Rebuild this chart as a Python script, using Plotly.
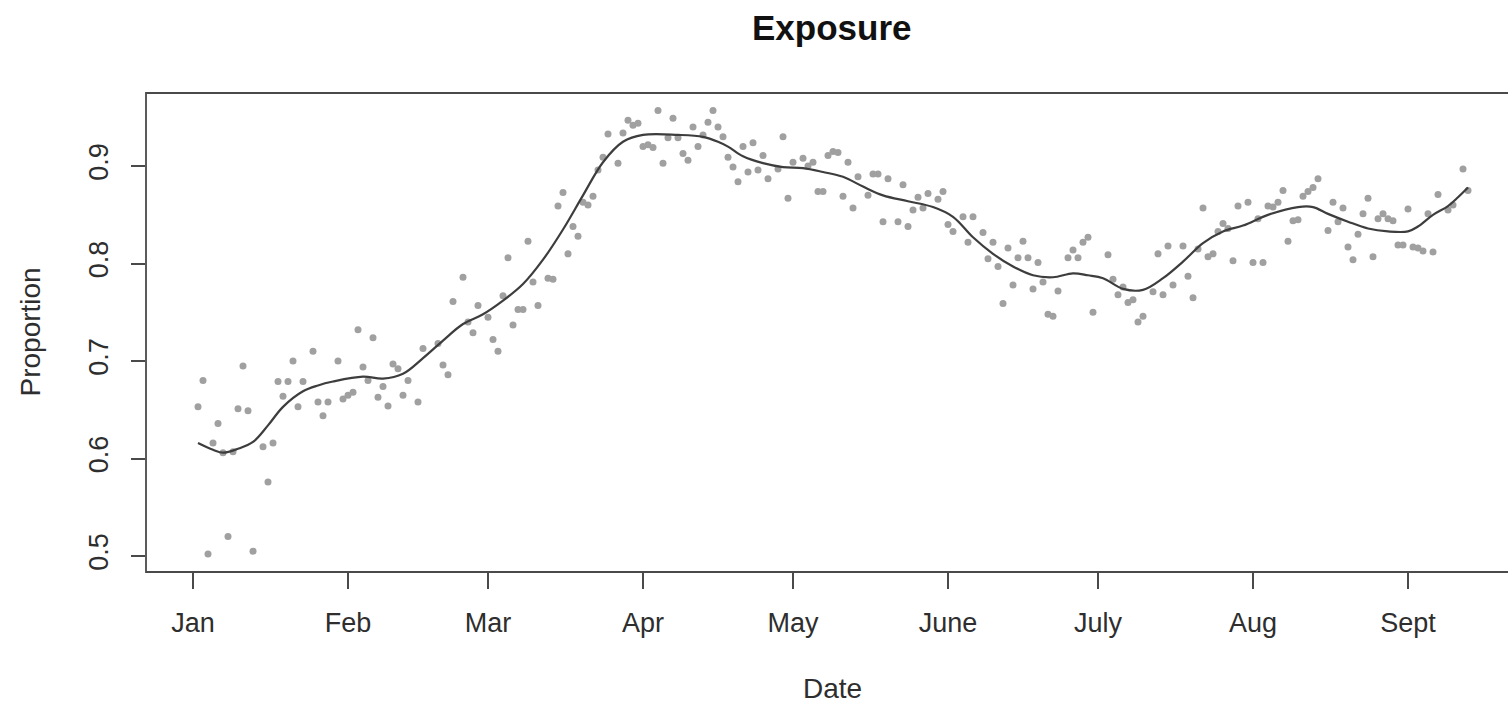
import plotly.graph_objects as go

# Daily exposure proportions (day 0 = 1 Jan)
obs_day = [1, 2, 3, 4, 5, 6, 7, 8, 9, 10, 11, 12, 14, 15, 16, 17, 18, 19, 20, 21,
           22, 24, 25, 26, 27, 29, 30, 31, 32, 33, 34, 35, 36, 37, 38, 39, 40, 41, 42, 43,
           45, 46, 49, 50, 51, 52, 54, 55, 56, 57, 59, 60, 61, 62, 63, 64, 65, 66, 67, 68,
           69, 71, 72, 73, 74, 75, 76, 77, 78, 79, 80, 81, 82, 83, 85, 86, 87, 88, 89, 90,
           91, 92, 93, 94, 95, 96, 97, 98, 99, 100, 101, 102, 103, 104, 105, 106, 107, 108, 109, 110,
           111, 112, 113, 114, 115, 117, 118, 119, 120, 122, 123, 124, 125, 126, 127, 128, 129, 130, 131, 132,
           133, 135, 136, 137, 138, 139, 141, 142, 143, 144, 145, 146, 147, 149, 150, 151, 152, 154, 155, 156,
           158, 159, 160, 161, 162, 163, 164, 165, 166, 167, 168, 169, 170, 171, 172, 173, 175, 176, 177, 178,
           179, 180, 183, 184, 185, 186, 187, 188, 189, 190, 192, 193, 194, 195, 196, 198, 199, 200, 201, 202,
           203, 204, 205, 206, 207, 208, 209, 211, 212, 213, 214, 215, 216, 217, 218, 219, 220, 221, 222, 223,
           224, 225, 227, 228, 229, 230, 231, 232, 233, 234, 235, 236, 237, 238, 239, 240, 241, 242, 243, 244,
           245, 246, 247, 248, 249, 251, 252, 254, 255]
obs_prop = [0.653, 0.680, 0.502, 0.616, 0.636, 0.606, 0.520, 0.607, 0.651, 0.695, 0.649, 0.505, 0.612, 0.576, 0.616, 0.679, 0.664, 0.679, 0.700, 0.653,
            0.679, 0.710, 0.658, 0.644, 0.658, 0.700, 0.661, 0.665, 0.668, 0.732, 0.694, 0.680, 0.724, 0.663, 0.674, 0.654, 0.697, 0.692, 0.665, 0.680,
            0.658, 0.713, 0.718, 0.696, 0.686, 0.761, 0.786, 0.740, 0.729, 0.757, 0.745, 0.722, 0.710, 0.767, 0.806, 0.737, 0.753, 0.753, 0.823, 0.781,
            0.757, 0.785, 0.784, 0.859, 0.873, 0.810, 0.838, 0.828, 0.863, 0.860, 0.869, 0.896, 0.909, 0.933, 0.903, 0.934, 0.947, 0.942, 0.944, 0.920,
            0.922, 0.919, 0.957, 0.903, 0.929, 0.949, 0.929, 0.913, 0.906, 0.940, 0.920, 0.932, 0.945, 0.957, 0.940, 0.930, 0.909, 0.899, 0.884, 0.920,
            0.894, 0.924, 0.896, 0.911, 0.887, 0.897, 0.930, 0.867, 0.904, 0.908, 0.900, 0.904, 0.874, 0.874, 0.911, 0.915, 0.914, 0.869, 0.904, 0.857,
            0.889, 0.870, 0.892, 0.892, 0.843, 0.887, 0.843, 0.881, 0.838, 0.855, 0.868, 0.857, 0.872, 0.866, 0.874, 0.840, 0.833, 0.848, 0.822, 0.848,
            0.832, 0.805, 0.822, 0.797, 0.759, 0.816, 0.778, 0.806, 0.823, 0.806, 0.774, 0.801, 0.781, 0.748, 0.746, 0.772, 0.806, 0.814, 0.806, 0.822,
            0.827, 0.750, 0.809, 0.784, 0.768, 0.776, 0.760, 0.763, 0.740, 0.746, 0.771, 0.810, 0.768, 0.818, 0.778, 0.818, 0.787, 0.765, 0.815, 0.857,
            0.807, 0.810, 0.833, 0.841, 0.836, 0.803, 0.859, 0.863, 0.801, 0.846, 0.801, 0.859, 0.858, 0.863, 0.875, 0.823, 0.844, 0.845, 0.869, 0.874,
            0.878, 0.887, 0.834, 0.863, 0.843, 0.857, 0.817, 0.804, 0.830, 0.851, 0.867, 0.807, 0.846, 0.851, 0.846, 0.844, 0.819, 0.819, 0.856, 0.817,
            0.816, 0.813, 0.851, 0.812, 0.871, 0.855, 0.860, 0.897, 0.875]

# Smoothed trend
trend_day = [1, 4, 6, 9, 12, 15, 18, 22, 25, 28, 34, 38, 42, 46, 50, 54, 58, 62, 66, 70,
             74, 78, 82, 86, 90, 97, 102, 105, 107, 110, 114, 118, 122, 126, 130, 134, 138, 143, 148, 152,
             156, 160, 164, 168, 172, 176, 179, 182, 186, 190, 194, 198, 202, 206, 210, 215, 221, 224, 227, 231,
             235, 239, 243, 245, 248, 251, 253, 255]
trend_prop = [0.616, 0.609, 0.606, 0.610, 0.617, 0.634, 0.653, 0.669, 0.675, 0.679, 0.684, 0.682, 0.687, 0.703, 0.721, 0.738, 0.748, 0.762, 0.779, 0.804,
              0.835, 0.870, 0.904, 0.925, 0.932, 0.932, 0.930, 0.925, 0.920, 0.910, 0.903, 0.899, 0.898, 0.894, 0.889, 0.879, 0.870, 0.864, 0.858, 0.848,
              0.827, 0.810, 0.797, 0.788, 0.786, 0.790, 0.788, 0.785, 0.774, 0.773, 0.785, 0.802, 0.821, 0.833, 0.839, 0.850, 0.858, 0.858, 0.851, 0.843,
              0.836, 0.833, 0.833, 0.838, 0.850, 0.859, 0.868, 0.878]

month_start = [0, 31, 59, 90, 120, 151, 181, 212, 243]
month_label = ["Jan", "Feb", "Mar", "Apr", "May", "June", "July", "Aug", "Sept"]
y_ticks = [0.5, 0.6, 0.7, 0.8, 0.9]

FONT = "Liberation Sans, Arial, Helvetica, sans-serif"
AXIS_COL = "#4a4a4a"
TEXT_COL = "#2e2e2e"
TICK_SIZE = 27
LAB_SIZE = 28

fig = go.Figure()
fig.add_trace(go.Scatter(
    x=obs_day, y=obs_prop, mode="markers",
    marker=dict(size=7, color="#a0a0a0", line=dict(width=0)),
    hoverinfo="x+y", showlegend=False,
))
fig.add_trace(go.Scatter(
    x=trend_day, y=trend_prop, mode="lines",
    line=dict(color="#3d3d3d", width=2.2, shape="spline", smoothing=1),
    showlegend=False,
))

W, H = 1508, 706
ML, MT, MB = 146, 93, 134

fig.update_layout(
    width=W, height=H,
    margin=dict(l=ML, r=0, t=MT, b=MB, pad=0),
    paper_bgcolor="white", plot_bgcolor="white",
    font=dict(family=FONT, color=TEXT_COL, size=TICK_SIZE),
    xaxis=dict(
        range=[-9.4, 263], tickmode="array", tickvals=month_start, ticktext=month_label,
        ticks="outside", ticklen=16, tickwidth=1.5, tickcolor=AXIS_COL,
        showgrid=False, zeroline=False, showline=False,
        ticklabelstandoff=11, tickfont=dict(size=TICK_SIZE, color=TEXT_COL, family=FONT),
    ),
    yaxis=dict(
        range=[0.4836, 0.975], tickmode="array", tickvals=y_ticks,
        ticktext=[f"{v:.1f}" for v in y_ticks],
        ticks="outside", ticklen=14, tickwidth=1.5, tickcolor=AXIS_COL,
        showgrid=False, zeroline=False, showline=False, tickangle=-90,
        ticklabelstandoff=12, tickfont=dict(size=TICK_SIZE, color=TEXT_COL, family=FONT),
    ),
    shapes=[dict(
        type="rect", xref="paper", yref="paper", x0=0, x1=1.01, y0=0, y1=1,
        line=dict(color=AXIS_COL, width=1.8), fillcolor="rgba(0,0,0,0)", layer="above",
    )],
    annotations=[
        dict(text="<b>Exposure</b>", xref="paper", yref="paper",
             x=(832 - ML) / (W - ML), y=1 + (MT - 27) / (H - MT - MB),
             xanchor="center", yanchor="middle", showarrow=False,
             font=dict(size=35, color="#111111", family=FONT)),
        dict(text="Date", xref="paper", yref="paper",
             x=(832 - ML) / (W - ML), y=-(688 - (H - MB)) / (H - MT - MB),
             xanchor="center", yanchor="middle", showarrow=False,
             font=dict(size=LAB_SIZE, color=TEXT_COL, family=FONT)),
        dict(text="Proportion", xref="paper", yref="paper",
             x=-(ML - 30) / (W - ML), y=0.5, textangle=-90,
             xanchor="center", yanchor="middle", showarrow=False,
             font=dict(size=LAB_SIZE, color=TEXT_COL, family=FONT)),
    ],
)

fig.write_html("out.html")
